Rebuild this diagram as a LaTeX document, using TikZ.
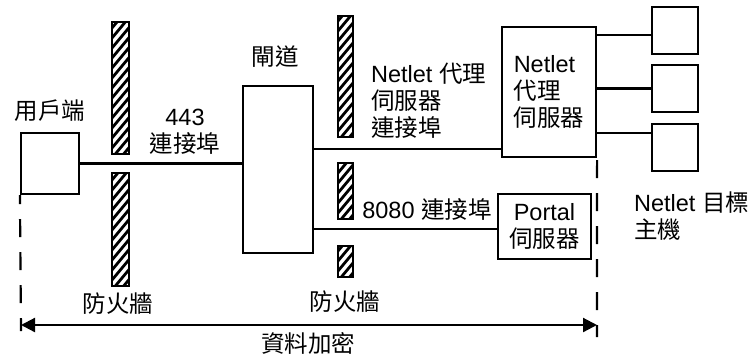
\documentclass[tikz,border=0pt]{standalone}
\usepackage{fontspec}
\setmainfont{Liberation Sans}
\newfontfamily\cjk{Noto Sans CJK TC}
\usepackage{tikz}
\usetikzlibrary{arrows,arrows.meta}

\tikzset{
  box/.style={draw, line width=1.1pt, inner sep=0pt},
  lbl/.style={inner sep=0pt, align=left},
  firewall/.style={draw, line width=1.1pt, path picture={
    \foreach \k in {-4,...,16}
      \draw[line width=1.4pt] ([yshift=\k*5pt-12pt]path picture bounding box.south west) -- ++(10pt,12pt);}},
  border/.style={line width=1.1pt, dash pattern=on 9pt off 7.5pt},
}

\begin{document}
\begin{tikzpicture}[x=0.5pt,y=-0.5pt,line width=1.1pt,font=\fontsize{11.75}{13.5}\selectfont]
\useasboundingbox (0,0) rectangle (751,355);
% boxes
\node[box, minimum width=29pt, minimum height=30.5pt] (client) at (50,163.5) {};
\node[box, minimum width=35pt, minimum height=83.5pt] (gateway) at (278,169.5) {};
\node[box, minimum width=47pt, minimum height=65pt, align=left] (proxy) at (549,92) {Netlet\\{\cjk 代理}\\{\cjk 伺服器}};
\node[box, minimum width=46.5pt, minimum height=32.5pt, align=center] (portal) at (544.5,226.5) {Portal\\{\cjk 伺服器}};
\foreach \n/\y in {1/30.5,2/88.5,3/147.5}
  \node[box, minimum width=23pt, minimum height=23.5pt] (target\n) at (675,\y) {};
% firewalls
\foreach \xa/\ya/\xb/\yb in {112/22/129/154, 112/173/129/286, 338/16/353/137, 338/163/353/219, 338/246/353/277}
  \draw[firewall] (\xa,\ya) rectangle (\xb,\yb);
% links
\draw (client.east) -- (client.east -| gateway.west);
\draw ([yshift=4.5pt]proxy.south west -| gateway.east) -- ([yshift=4.5pt]proxy.south west);
\draw ([yshift=-1.25pt]portal.west -| gateway.east) -- ([yshift=-1.25pt]portal.west);
\foreach \n/\s in {1/-2.25pt,2/0pt,3/7.25pt}
  \draw ([yshift=\s]target\n.west -| proxy.east) -- ([yshift=\s]target\n.west);
% encryption range
\coordinate (dashL) at (21,331);
\coordinate (dashR) at (597,337);
\coordinate (encL) at (21,325);
\coordinate (encR) at (597,325);
\draw[border, dash phase=4.5pt] (client.south west) -- (dashL);
\draw[border] ([yshift=-1pt]proxy.south east) -- (dashR);
\draw[<->,>={Triangle[length=7pt,width=7pt]}] (encL) -- (encR);
% labels
\node[lbl] (clientlbl) at (50,111) {\cjk 用戶端};
\node[lbl] (gatewaylbl) at (275,57) {\cjk 閘道};
\node[lbl, align=center] (port443) at (185,132) {443\\{\cjk 連接埠}};
\node[lbl, anchor=west] (proxyport) at (370,101) {Netlet {\cjk 代理}\\{\cjk 伺服器}\\{\cjk 連接埠}};
\node[lbl] (port8080) at (427,210) {8080 {\cjk 連接埠}};
\node[lbl, anchor=west] (targetlbl) at (633,216) {Netlet {\cjk 目標}\\{\cjk 主機}};
\node[lbl] (fwlbl1) at (118,304) {\cjk 防火牆};
\node[lbl] (fwlbl2) at (345,302) {\cjk 防火牆};
\node[lbl] (enclbl) at (308,343) {\cjk 資料加密};
\end{tikzpicture}
\end{document}
